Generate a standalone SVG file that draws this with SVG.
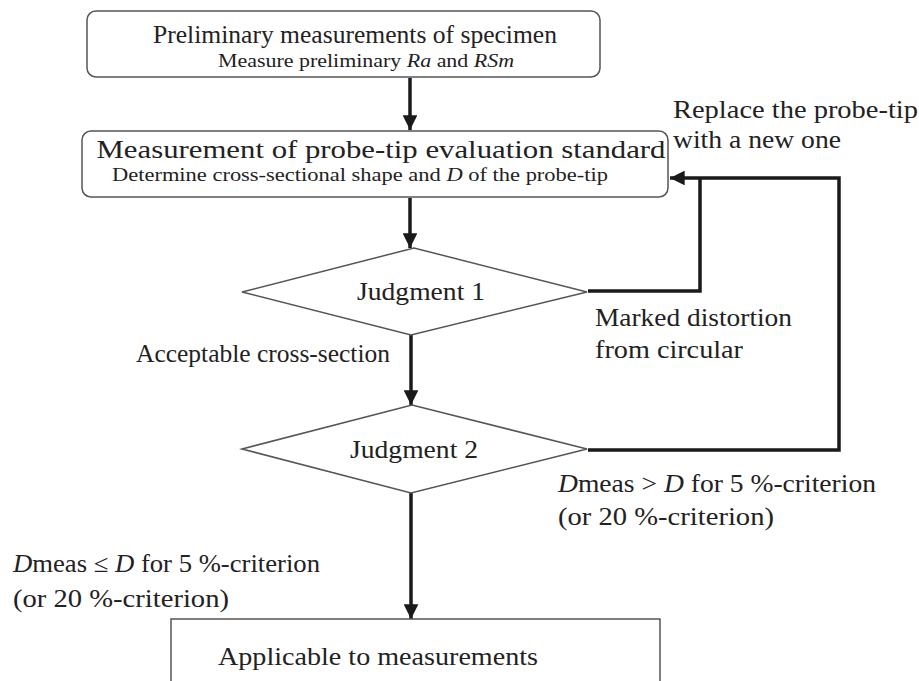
<svg xmlns="http://www.w3.org/2000/svg" width="919" height="681" viewBox="0 0 919 681">
<defs>
<marker id="ah" viewBox="0 0 10 10" refX="10" refY="5" markerWidth="4.2" markerHeight="4.2" markerUnits="strokeWidth" orient="auto">
<path d="M0,0 L10,5 L0,10 z" fill="#1a1a1a"/>
</marker>
<style>
.box{fill:#fff;stroke:#555;stroke-width:1.5}
.con{fill:none;stroke:#1a1a1a;stroke-width:3.5}
.t{font-family:"Liberation Serif","DejaVu Serif",serif;fill:#222}
.big{font-size:26px}
.sm{font-size:19.5px}
.lb{font-size:25px}
.it{font-style:italic}
</style>
</defs>
<rect width="919" height="681" fill="#fff"/>
<g id="connectors">
<line class="con" x1="410" y1="78" x2="410" y2="130" marker-end="url(#ah)"/>
<line class="con" x1="410" y1="198" x2="410" y2="248" marker-end="url(#ah)"/>
<line class="con" x1="411" y1="335" x2="411" y2="405" marker-end="url(#ah)"/>
<line class="con" x1="411" y1="493" x2="411" y2="619" marker-end="url(#ah)"/>
<polyline class="con" points="588,291 700,291 700,178"/>
<polyline class="con" points="588,450 839,450 839,178 670,178" marker-end="url(#ah)"/>
</g>
<g id="n1">
<rect class="box" x="87" y="11" width="513" height="66" rx="9"/>
<text class="t big" x="355" y="43" text-anchor="middle" textLength="404" lengthAdjust="spacingAndGlyphs">Preliminary measurements of specimen</text>
<text class="t sm" x="366" y="67" text-anchor="middle" textLength="296" lengthAdjust="spacingAndGlyphs">Measure preliminary <tspan class="it">Ra</tspan> and <tspan class="it">RSm</tspan></text>
</g>
<g id="n2">
<rect class="box" x="82" y="131" width="586" height="66" rx="9"/>
<text class="t big" x="381" y="158" text-anchor="middle" textLength="569" lengthAdjust="spacingAndGlyphs">Measurement of probe-tip evaluation standard</text>
<text class="t sm" x="360" y="181" text-anchor="middle" textLength="496" lengthAdjust="spacingAndGlyphs">Determine cross-sectional shape and <tspan class="it">D</tspan> of the probe-tip</text>
</g>
<g id="d1">
<polygon class="box" points="242,292 414,248 587,292 411,335"/>
<text class="t big" x="421" y="300" text-anchor="middle" textLength="128" lengthAdjust="spacingAndGlyphs">Judgment 1</text>
</g>
<g id="d2">
<polygon class="box" points="242,449 412,405 587,449 411,493"/>
<text class="t big" x="414" y="458" text-anchor="middle" textLength="128" lengthAdjust="spacingAndGlyphs">Judgment 2</text>
</g>
<g id="n3">
<rect class="box" x="171" y="619" width="489" height="80"/>
<text class="t big" x="378" y="665" text-anchor="middle" textLength="320" lengthAdjust="spacingAndGlyphs">Applicable to measurements</text>
</g>
<g id="labels">
<text class="t lb" x="673" y="118" textLength="245" lengthAdjust="spacingAndGlyphs">Replace the probe-tip</text>
<text class="t lb" x="673" y="148" textLength="168" lengthAdjust="spacingAndGlyphs">with a new one</text>
<text class="t lb" x="595" y="326" textLength="197" lengthAdjust="spacingAndGlyphs">Marked distortion</text>
<text class="t lb" x="595" y="358" textLength="148" lengthAdjust="spacingAndGlyphs">from circular</text>
<text class="t lb" x="136" y="362" textLength="254" lengthAdjust="spacingAndGlyphs">Acceptable cross-section</text>
<text class="t lb" x="558" y="492" textLength="318" lengthAdjust="spacingAndGlyphs"><tspan class="it">D</tspan>meas &gt; <tspan class="it">D</tspan> for 5 %-criterion</text>
<text class="t lb" x="558" y="525" textLength="216" lengthAdjust="spacingAndGlyphs">(or 20 %-criterion)</text>
<text class="t lb" x="13" y="572" textLength="307" lengthAdjust="spacingAndGlyphs"><tspan class="it">D</tspan>meas ≤ <tspan class="it">D</tspan> for 5 %-criterion</text>
<text class="t lb" x="13" y="607" textLength="216" lengthAdjust="spacingAndGlyphs">(or 20 %-criterion)</text>
</g>
</svg>
